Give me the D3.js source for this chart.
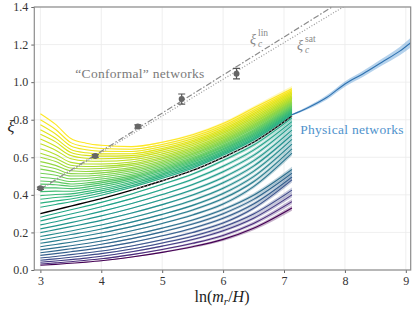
<!DOCTYPE html>
<html>
<head>
<meta charset="utf-8">
<script src="https://cdn.jsdelivr.net/npm/d3@7"></script>
<style>
  body { margin: 0; background: #fff; }
  svg { display: block; }
  text { font-family: "Liberation Serif", "DejaVu Serif", serif; }
</style>
</head>
<body>
<div id="chart"></div>
<script>
// grid in ln(m_r/H) on which the simulated curves are sampled
const xGrid = [3, 3.25, 3.5, 3.75, 4, 4.5, 5, 5.5, 6, 6.5, 7.13];

// curves below the critical (black) one, bottom to top
const lowerCurves = [
  [0.025, 0.030, 0.036, 0.042, 0.049, 0.069, 0.094, 0.124, 0.163, 0.222, 0.330],
  [0.032, 0.038, 0.044, 0.052, 0.060, 0.082, 0.109, 0.142, 0.184, 0.248, 0.364],
  [0.041, 0.048, 0.055, 0.063, 0.073, 0.097, 0.127, 0.162, 0.209, 0.276, 0.400],
  [0.052, 0.059, 0.068, 0.077, 0.087, 0.112, 0.144, 0.180, 0.229, 0.298, 0.425],
  [0.064, 0.072, 0.082, 0.091, 0.101, 0.128, 0.161, 0.200, 0.250, 0.329, 0.480],
  [0.078, 0.087, 0.097, 0.107, 0.119, 0.147, 0.182, 0.222, 0.275, 0.351, 0.495],
  [0.092, 0.102, 0.113, 0.124, 0.137, 0.167, 0.203, 0.245, 0.300, 0.376, 0.515],
  [0.107, 0.118, 0.129, 0.141, 0.154, 0.186, 0.223, 0.266, 0.322, 0.398, 0.535],
  [0.124, 0.136, 0.148, 0.161, 0.175, 0.209, 0.248, 0.293, 0.351, 0.444, 0.622],
  [0.142, 0.155, 0.168, 0.182, 0.197, 0.231, 0.272, 0.319, 0.380, 0.470, 0.645],
  [0.160, 0.174, 0.189, 0.202, 0.218, 0.255, 0.296, 0.344, 0.407, 0.497, 0.670],
  [0.178, 0.193, 0.208, 0.224, 0.240, 0.278, 0.322, 0.371, 0.435, 0.525, 0.695],
  [0.199, 0.215, 0.231, 0.247, 0.264, 0.303, 0.348, 0.399, 0.464, 0.553, 0.720],
  [0.219, 0.235, 0.252, 0.270, 0.288, 0.329, 0.375, 0.427, 0.493, 0.581, 0.745],
  [0.240, 0.257, 0.276, 0.293, 0.312, 0.354, 0.402, 0.455, 0.523, 0.610, 0.770],
  [0.261, 0.280, 0.298, 0.317, 0.337, 0.380, 0.429, 0.483, 0.552, 0.638, 0.790],
  [0.281, 0.301, 0.321, 0.340, 0.360, 0.405, 0.456, 0.511, 0.583, 0.665, 0.810]
];

// critical curve (black)
const criticalCurve = [0.300, 0.320, 0.340, 0.360, 0.380, 0.425, 0.475, 0.530, 0.600, 0.680, 0.820];

// curves above the critical one, bottom to top
const upperCurves = [
  [0.334, 0.349, 0.363, 0.380, 0.398, 0.440, 0.488, 0.542, 0.612, 0.692, 0.829],
  [0.356, 0.368, 0.378, 0.393, 0.410, 0.449, 0.497, 0.550, 0.619, 0.699, 0.835],
  [0.377, 0.386, 0.392, 0.406, 0.421, 0.459, 0.505, 0.558, 0.626, 0.706, 0.841],
  [0.396, 0.402, 0.405, 0.417, 0.431, 0.467, 0.512, 0.564, 0.632, 0.713, 0.846],
  [0.417, 0.420, 0.419, 0.429, 0.442, 0.476, 0.520, 0.572, 0.640, 0.720, 0.852],
  [0.437, 0.437, 0.433, 0.441, 0.453, 0.485, 0.528, 0.579, 0.646, 0.727, 0.857],
  [0.457, 0.454, 0.446, 0.453, 0.464, 0.493, 0.535, 0.586, 0.653, 0.734, 0.863],
  [0.474, 0.469, 0.458, 0.463, 0.473, 0.501, 0.542, 0.592, 0.659, 0.740, 0.867],
  [0.494, 0.486, 0.471, 0.475, 0.484, 0.510, 0.550, 0.599, 0.666, 0.746, 0.873],
  [0.515, 0.504, 0.485, 0.487, 0.495, 0.519, 0.558, 0.607, 0.673, 0.754, 0.879],
  [0.537, 0.522, 0.500, 0.500, 0.506, 0.528, 0.566, 0.615, 0.680, 0.761, 0.885],
  [0.556, 0.539, 0.513, 0.512, 0.517, 0.537, 0.574, 0.621, 0.687, 0.768, 0.890],
  [0.577, 0.557, 0.528, 0.524, 0.528, 0.546, 0.582, 0.629, 0.694, 0.775, 0.896],
  [0.600, 0.577, 0.543, 0.538, 0.540, 0.556, 0.591, 0.637, 0.702, 0.783, 0.902],
  [0.622, 0.595, 0.558, 0.551, 0.552, 0.565, 0.599, 0.645, 0.709, 0.790, 0.908],
  [0.645, 0.615, 0.573, 0.564, 0.564, 0.575, 0.608, 0.653, 0.717, 0.798, 0.914],
  [0.672, 0.638, 0.592, 0.580, 0.579, 0.587, 0.618, 0.663, 0.726, 0.807, 0.921],
  [0.697, 0.659, 0.609, 0.595, 0.592, 0.598, 0.628, 0.672, 0.734, 0.816, 0.928],
  [0.723, 0.682, 0.626, 0.610, 0.606, 0.609, 0.638, 0.681, 0.743, 0.825, 0.935],
  [0.746, 0.701, 0.642, 0.624, 0.618, 0.619, 0.647, 0.689, 0.751, 0.833, 0.942],
  [0.773, 0.724, 0.660, 0.640, 0.632, 0.631, 0.657, 0.699, 0.760, 0.842, 0.949],
  [0.800, 0.748, 0.678, 0.656, 0.647, 0.643, 0.668, 0.709, 0.769, 0.851, 0.956],
  [0.832, 0.775, 0.700, 0.675, 0.664, 0.657, 0.680, 0.720, 0.780, 0.862, 0.965]
];

// statistical half-width of the shaded bands
const bandHalf = [0, 0, 0, 0, 0.002, 0.003, 0.004, 0.006, 0.008, 0.010, 0.014];

// physical networks
const physX = [7.13, 7.4, 7.7, 8.0, 8.3, 8.6, 8.9, 9.08];
const physY = [0.826, 0.865, 0.918, 0.990, 1.045, 1.105, 1.165, 1.210];
const physErr = [0.004, 0.008, 0.012, 0.014, 0.016, 0.018, 0.022, 0.026];

// "conformal" networks measured points
const ptX = [3.0, 3.9, 4.6, 5.32, 6.22];
const ptY = [0.435, 0.607, 0.764, 0.910, 1.045];
const ptErr = [0.006, 0.007, 0.009, 0.027, 0.028];

// fits xi_c^lin and xi_c^sat
const linX = [3, 8.1];
const linY = [0.43, 1.463];
const satX = [3, 8.1];
const satY = [0.43, 1.425];

const xTicks = [3, 4, 5, 6, 7, 8, 9];
const yTicks = [0, 0.2, 0.4, 0.6, 0.8, 1.0, 1.2, 1.4];

const W = 415, H = 313;
const x = d3.scaleLinear().domain([2.9, 9.08]).range([34.3, 410.7]);
const y = d3.scaleLinear().domain([0, 1.4]).range([270, 7]);

const svg = d3.select("#chart").append("svg")
  .attr("width", W).attr("height", H);

svg.append("clipPath").attr("id", "plot")
  .append("rect")
  .attr("x", x.range()[0]).attr("y", y.range()[1])
  .attr("width", x.range()[1] - x.range()[0])
  .attr("height", y.range()[0] - y.range()[1]);

// grid
svg.append("g").selectAll("line").data(xTicks).join("line")
  .attr("x1", d => x(d)).attr("x2", d => x(d))
  .attr("y1", y.range()[0]).attr("y2", y.range()[1])
  .attr("stroke", "#ebebeb").attr("stroke-width", 0.8);
svg.append("g").selectAll("line").data(yTicks).join("line")
  .attr("y1", d => y(d)).attr("y2", d => y(d))
  .attr("x1", x.range()[0]).attr("x2", x.range()[1])
  .attr("stroke", "#ebebeb").attr("stroke-width", 0.8);

const plot = svg.append("g").attr("clip-path", "url(#plot)");

const allCurves = lowerCurves.concat(upperCurves);
const nC = allCurves.length;
const colorOf = i => d3.interpolateViridis(Math.pow(i / (nC - 1), 0.59));

const line = d3.line().x(d => x(d[0])).y(d => y(d[1])).curve(d3.curveMonotoneX);
const area = d3.area().x(d => x(d[0])).y0(d => y(d[1] - d[2])).y1(d => y(d[1] + d[2]))
  .curve(d3.curveMonotoneX);

const rows = vals => xGrid.map((xv, k) => [xv, vals[k], bandHalf[k]]);

// bands
plot.append("g").selectAll("path").data(allCurves).join("path")
  .attr("d", c => area(rows(c)))
  .attr("fill", (c, i) => colorOf(i))
  .attr("opacity", 0.3);

// curves
plot.append("g").selectAll("path").data(allCurves).join("path")
  .attr("d", c => line(rows(c)))
  .attr("fill", "none")
  .attr("stroke", (c, i) => colorOf(i))
  .attr("stroke-width", 1.1);

// critical curve
plot.append("path")
  .attr("d", line(rows(criticalCurve)))
  .attr("fill", "none").attr("stroke", "#000").attr("stroke-width", 1.4);
plot.append("path")
  .attr("d", line(rows(criticalCurve).filter(d => d[0] >= 4.5)))
  .attr("fill", "none").attr("stroke", "#9a9a9a").attr("stroke-width", 1)
  .attr("stroke-dasharray", "1.5,2.5");

// physical networks
const physRows = physX.map((xv, k) => [xv, physY[k], physErr[k]]);
plot.append("path").attr("d", area(physRows))
  .attr("fill", "#5b9bd5").attr("opacity", 0.45);
plot.append("path").attr("d", line(physRows))
  .attr("fill", "none").attr("stroke", "#2f72b0").attr("stroke-width", 1.1);

// fits
const straight = d3.line().x(d => x(d[0])).y(d => y(d[1]));
plot.append("path").attr("d", straight(linX.map((v, k) => [v, linY[k]])))
  .attr("fill", "none").attr("stroke", "#8a8a8a").attr("stroke-width", 1.2)
  .attr("stroke-dasharray", "6,2,1.5,2");
plot.append("path").attr("d", straight(satX.map((v, k) => [v, satY[k]])))
  .attr("fill", "none").attr("stroke", "#9a9a9a").attr("stroke-width", 1.2)
  .attr("stroke-dasharray", "1,1.8");

// measured points with error bars
const pts = plot.append("g").selectAll("g").data(ptX.map((v, k) => [v, ptY[k], ptErr[k]])).join("g");
pts.append("line")
  .attr("x1", d => x(d[0])).attr("x2", d => x(d[0]))
  .attr("y1", d => y(d[1] - d[2])).attr("y2", d => y(d[1] + d[2]))
  .attr("stroke", "#555").attr("stroke-width", 1.2);
pts.selectAll(".cap").data(d => [[d[0], d[1] - d[2]], [d[0], d[1] + d[2]]]).join("line")
  .attr("x1", d => x(d[0]) - 3.5).attr("x2", d => x(d[0]) + 3.5)
  .attr("y1", d => y(d[1])).attr("y2", d => y(d[1]))
  .attr("stroke", "#555").attr("stroke-width", 1.2);
pts.append("circle")
  .attr("cx", d => x(d[0])).attr("cy", d => y(d[1])).attr("r", 3)
  .attr("fill", "#666");

// axes
const xAxis = svg.append("g").attr("transform", `translate(0,${y.range()[0]})`)
  .call(d3.axisBottom(x).tickValues(xTicks).tickSize(3).tickPadding(3).tickFormat(d3.format("d")));
const yAxis = svg.append("g").attr("transform", `translate(${x.range()[0]},0)`)
  .call(d3.axisLeft(y).tickValues(yTicks).tickSize(3).tickPadding(3).tickFormat(d3.format(".1f")));
[xAxis, yAxis].forEach(a => {
  a.select(".domain").remove();
  a.selectAll(".tick line").attr("stroke", "#666");
  a.selectAll(".tick text").attr("fill", "#333").attr("font-size", 12)
    .attr("font-family", "'Liberation Serif', 'DejaVu Serif', serif");
});

// frame
svg.append("rect")
  .attr("x", x.range()[0]).attr("y", y.range()[1])
  .attr("width", x.range()[1] - x.range()[0])
  .attr("height", y.range()[0] - y.range()[1])
  .attr("fill", "none").attr("stroke", "#8c8c8c").attr("stroke-width", 1.2);

// labels
const xl = svg.append("text").attr("x", 222).attr("y", 302)
  .attr("text-anchor", "middle").attr("font-size", 16).attr("fill", "#222");
xl.append("tspan").text("ln(");
xl.append("tspan").attr("font-style", "italic").text("m");
xl.append("tspan").attr("font-style", "italic").attr("font-size", 11).attr("dy", 3).text("r");
xl.append("tspan").attr("dy", -3).text("/");
xl.append("tspan").attr("font-style", "italic").text("H");
xl.append("tspan").text(")");

svg.append("text").attr("x", 11).attr("y", 132)
  .attr("text-anchor", "middle").attr("font-size", 16).attr("font-style", "italic")
  .attr("fill", "#222").text("ξ");

svg.append("text").attr("x", 140).attr("y", 78)
  .attr("text-anchor", "middle").attr("font-size", 13.5).attr("letter-spacing", 0.3)
  .attr("fill", "#7a7a7a")
  .text("\u201cConformal\u201d networks");

svg.append("text").attr("x", 352).attr("y", 134)
  .attr("text-anchor", "middle").attr("font-size", 13.5).attr("letter-spacing", 0.3)
  .attr("fill", "#4f92cc")
  .text("Physical networks");

function xiLabel(px, py, sup) {
  const g = svg.append("g").attr("fill", "#888");
  g.append("text").attr("x", px).attr("y", py).attr("font-size", 14)
    .attr("font-style", "italic").text("ξ");
  g.append("text").attr("x", px + 8).attr("y", py - 8).attr("font-size", 9.5).text(sup);
  g.append("text").attr("x", px + 8).attr("y", py + 3).attr("font-size", 9.5)
    .attr("font-style", "italic").text("c");
}
xiLabel(250, 44, "lin");
xiLabel(297, 50, "sat");
</script>
</body>
</html>
